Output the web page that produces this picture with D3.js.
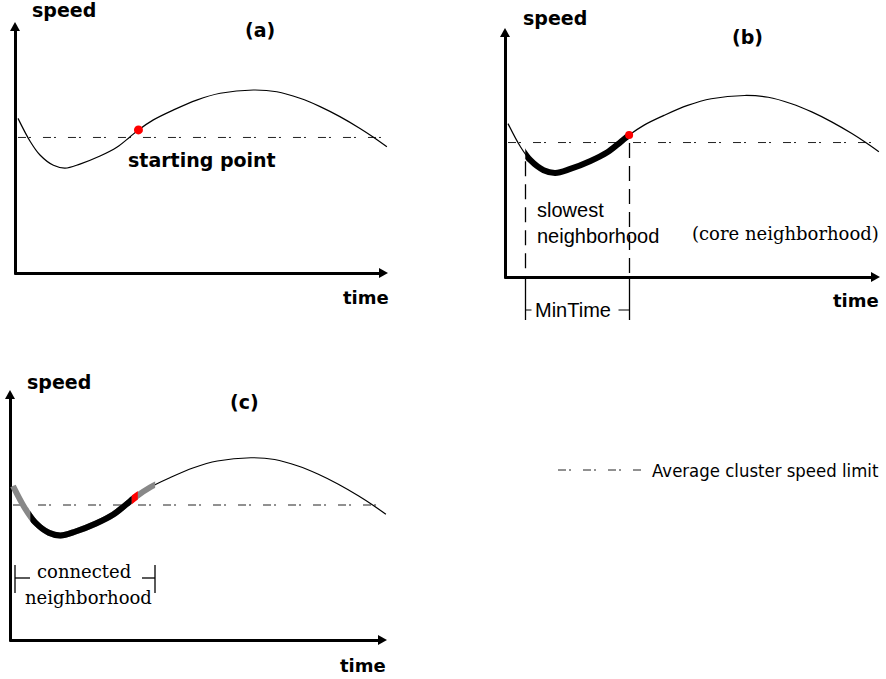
<!DOCTYPE html>
<html><head><meta charset="utf-8">
<script src="https://cdn.jsdelivr.net/npm/d3@7"></script>
<style>body{margin:0;background:#fff}</style>
</head><body>
<svg id="fig" width="886" height="679"></svg>
<script>
// Speed profile along the trajectory (both axes in percent of the plotted range)
const timeValues  = [0.8, 4.0, 6.7, 10.3, 13.4, 17.4, 22.8, 27.3, 30.8, 33.1, 37.1, 42.4, 48.7, 55.0, 63.9, 70.2, 76.4, 81.8, 87.1, 92.5, 96.1, 99.7];
const speedValues = [61.6, 52.6, 47.0, 42.9, 41.8, 43.4, 46.6, 50.1, 54.2, 57.0, 61.0, 64.9, 68.9, 71.6, 72.9, 72.2, 69.6, 66.3, 62.3, 57.6, 54.1, 50.3];
const speedLimit = 54;          // average cluster speed limit
const startTime = 33.1;         // starting point of the cluster
const startSpeed = 57.0;
const slowestFrom = 5.4;        // slowest neighbourhood spans slowestFrom..startTime (MinTime)
const connectedFrom = 0;        // connected neighbourhood extends to both sides
const connectedTo = 38.5;
const panelNames = ["(a)", "(b)", "(c)"];
const axisNames = ["speed", "time"];
const legendText = "Average cluster speed limit";

const profile = timeValues.map((t, i) => ({t, s: speedValues[i]}));

const svg = d3.select("#fig");
const defs = svg.append("defs");
const dashPattern = "8,3,2,12";

// panel frames: origin of the axes and axis lengths in pixels
const panels = [
  {name: panelNames[0], x0: 15,  y0: 273, w: 373, h: 251,
   speedPos: [32, 17], namePos: [245, 37], timePos: [343, 304]},
  {name: panelNames[1], x0: 505, y0: 277, w: 375, h: 249,
   speedPos: [523, 25], namePos: [732, 44], timePos: [833, 307]},
  {name: panelNames[2], x0: 10,  y0: 640, w: 377, h: 250,
   speedPos: [27, 389], namePos: [230, 409], timePos: [340, 672]}
];

const boldFont = "'DejaVu Sans', sans-serif";
const serifFont = "'DejaVu Serif', serif";
const armFont = "'Liberation Sans', Arial, sans-serif";

panels.forEach((p, i) => {
  const g = svg.append("g");
  const x = d3.scaleLinear().domain([0, 100]).range([p.x0, p.x0 + p.w]);
  const y = d3.scaleLinear().domain([0, 100]).range([p.y0, p.y0 - p.h]);
  p.x = x; p.y = y; p.g = g;

  // axes: bare domain lines, arrow heads at the far ends
  const arrow = 9;
  const xAxisScale = x.copy().range([p.x0 - 1, p.x0 + p.w - arrow + 1]);
  const yAxisScale = y.copy().range([p.y0 + 1, p.y0 - p.h + arrow - 1]);
  const xa = g.append("g").attr("transform", `translate(0,${p.y0})`)
    .call(d3.axisBottom(xAxisScale).tickValues([]).tickSizeOuter(0));
  const ya = g.append("g").attr("transform", `translate(${p.x0},0)`)
    .call(d3.axisLeft(yAxisScale).tickValues([]).tickSizeOuter(0));
  [xa, ya].forEach(a => a.select(".domain").attr("stroke", "#000").attr("stroke-width", 3));
  const xt = x(100), yt = y(100);
  g.append("path").attr("d", `M${xt},${p.y0}L${xt - arrow},${p.y0 - 5}L${xt - arrow},${p.y0 + 5}Z`).attr("fill", "#000");
  g.append("path").attr("d", `M${p.x0},${yt}L${p.x0 - 5},${yt + arrow}L${p.x0 + 5},${yt + arrow}Z`).attr("fill", "#000");

  // speed limit
  g.append("line")
    .attr("x1", x(timeValues[0])).attr("x2", x(timeValues[timeValues.length - 1]))
    .attr("y1", y(speedLimit)).attr("y2", y(speedLimit))
    .attr("stroke", "#222").attr("stroke-width", 1).attr("stroke-dasharray", dashPattern);

  p.line = d3.line().x(d => x(d.t)).y(d => y(d.s)).curve(d3.curveCatmullRom.alpha(0.5));
  p.clip = (id, t0, t1) => {
    defs.append("clipPath").attr("id", id).append("rect")
      .attr("x", x(t0)).attr("width", x(t1) - x(t0))
      .attr("y", p.y0 - p.h).attr("height", p.h);
    return `url(#${id})`;
  };

  // labels
  g.append("text").attr("x", p.speedPos[0]).attr("y", p.speedPos[1])
    .attr("font-family", boldFont).attr("font-weight", "bold").attr("font-size", 19)
    .text(axisNames[0]);
  g.append("text").attr("x", p.timePos[0]).attr("y", p.timePos[1])
    .attr("font-family", boldFont).attr("font-weight", "bold").attr("font-size", 18)
    .text(axisNames[1]);
  g.append("text").attr("x", p.namePos[0]).attr("y", p.namePos[1])
    .attr("font-family", boldFont).attr("font-weight", "bold").attr("font-size", 19)
    .text(p.name);
});

// ---- (a) starting point
{
  const p = panels[0];
  p.g.append("path").datum(profile).attr("d", p.line)
    .attr("fill", "none").attr("stroke", "#000").attr("stroke-width", 1.2);
  p.g.append("circle").attr("cx", p.x(startTime)).attr("cy", p.y(startSpeed)).attr("r", 4.5).attr("fill", "#f00");
  p.g.append("text").attr("x", 128).attr("y", 167)
    .attr("font-family", boldFont).attr("font-weight", "bold").attr("font-size", 19)
    .text("starting point");
}

// ---- (b) slowest neighbourhood of length MinTime
{
  const p = panels[1];
  p.g.append("path").datum(profile).attr("d", p.line)
    .attr("fill", "none").attr("stroke", "#000").attr("stroke-width", 1.2);
  p.g.append("path").datum(profile).attr("d", p.line)
    .attr("clip-path", p.clip("slowB", slowestFrom, startTime))
    .attr("fill", "none").attr("stroke", "#000").attr("stroke-width", 6).attr("stroke-linejoin", "round");
  p.g.append("circle").attr("cx", p.x(startTime)).attr("cy", p.y(startSpeed)).attr("r", 4).attr("fill", "#f00");

  const interp = d3.scaleLinear().domain(timeValues).range(speedValues);
  [slowestFrom, startTime].forEach(t => {
    const xx = Math.round(p.x(t)) + 0.5;
    p.g.append("line").attr("x1", xx).attr("x2", xx)
      .attr("y1", p.y(interp(t)) + 8).attr("y2", p.y0)
      .attr("stroke", "#000").attr("stroke-width", 1.3).attr("stroke-dasharray", "15,8");
    p.g.append("line").attr("x1", xx).attr("x2", xx)
      .attr("y1", p.y0).attr("y2", p.y0 + 43)
      .attr("stroke", "#000").attr("stroke-width", 1.3);
  });
  const xl = Math.round(p.x(slowestFrom)) + 0.5, xr = Math.round(p.x(startTime)) + 0.5;
  p.g.append("line").attr("x1", xl).attr("x2", xl + 6).attr("y1", p.y0 + 33).attr("y2", p.y0 + 33).attr("stroke", "#000");
  p.g.append("line").attr("x1", xr - 11).attr("x2", xr).attr("y1", p.y0 + 33).attr("y2", p.y0 + 33).attr("stroke", "#000");
  p.g.append("text").attr("x", 535).attr("y", 317)
    .attr("font-family", armFont).attr("font-size", 20).text("MinTime");
  p.g.append("text").attr("x", 537).attr("y", 217)
    .attr("font-family", armFont).attr("font-size", 20).text("slowest");
  p.g.append("text").attr("x", 537).attr("y", 243)
    .attr("font-family", armFont).attr("font-size", 20).text("neighborhood");
  p.g.append("text").attr("x", 692).attr("y", 240)
    .attr("font-family", serifFont).attr("font-size", 18).text("(core neighborhood)");
}

// ---- (c) connected neighbourhood
{
  const p = panels[2];
  p.g.append("path").datum(profile).attr("d", p.line)
    .attr("fill", "none").attr("stroke", "#000").attr("stroke-width", 1.2);
  p.g.append("path").datum(profile).attr("d", p.line)
    .attr("clip-path", p.clip("connC", connectedFrom, connectedTo))
    .attr("fill", "none").attr("stroke", "#888").attr("stroke-width", 6);
  p.g.append("path").datum(profile).attr("d", p.line)
    .attr("clip-path", p.clip("slowC", slowestFrom, startTime - 0.8))
    .attr("fill", "none").attr("stroke", "#000").attr("stroke-width", 6).attr("stroke-linejoin", "round");
  p.g.append("path").datum(profile).attr("d", p.line)
    .attr("clip-path", p.clip("startC", startTime - 0.8, startTime + 0.8))
    .attr("fill", "none").attr("stroke", "#f00").attr("stroke-width", 7);

  // bracket around the connected neighbourhood
  const yb = 578;
  [[15, 30], [142, 155]].forEach(([a, b], k) => {
    p.g.append("line").attr("x1", a).attr("x2", b).attr("y1", yb).attr("y2", yb).attr("stroke", "#000").attr("stroke-width", 1.3);
    const xv = k === 0 ? a : b;
    p.g.append("line").attr("x1", xv).attr("x2", xv).attr("y1", 565).attr("y2", 593).attr("stroke", "#000").attr("stroke-width", 1.3);
  });
  p.g.append("text").attr("x", 37).attr("y", 578)
    .attr("font-family", serifFont).attr("font-size", 18).text("connected");
  p.g.append("text").attr("x", 25).attr("y", 604)
    .attr("font-family", serifFont).attr("font-size", 18).text("neighborhood");
}

// ---- legend
svg.append("line").attr("x1", 558).attr("x2", 641).attr("y1", 470).attr("y2", 470)
  .attr("stroke", "#222").attr("stroke-width", 1).attr("stroke-dasharray", dashPattern);
// narrow face: horizontally squeezed so it ends at the right margin
svg.append("text").attr("transform", "translate(652,477) scale(0.92,1)")
  .attr("font-family", "'DejaVu Sans', sans-serif").attr("font-size", 18)
  .text(legendText);
</script>
</body></html>
